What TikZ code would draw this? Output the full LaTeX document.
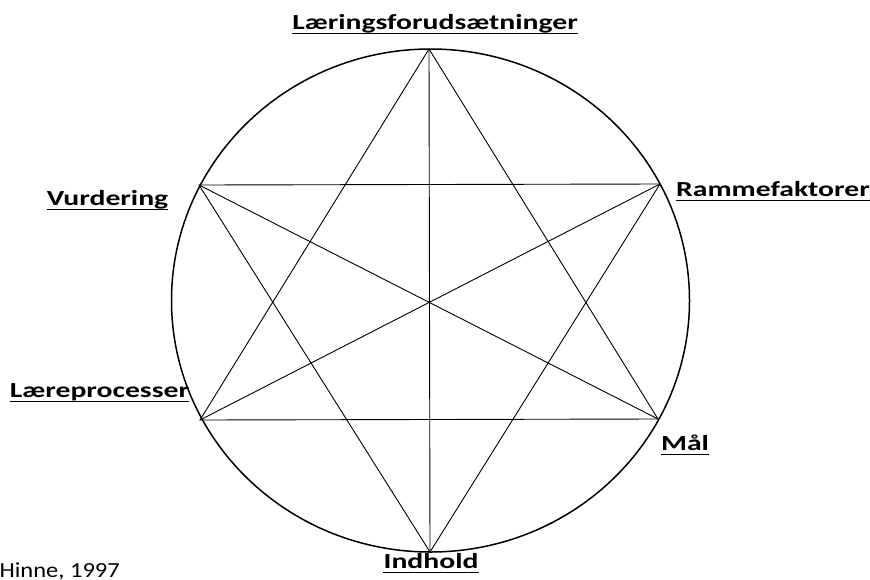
\documentclass[tikz,border=0pt]{standalone}
\usepackage{fontspec}
\setmainfont{Carlito}
\newfontfamily\labfont[FakeStretch=1.38]{Carlito}
\newfontfamily\srcfont[FakeStretch=1.14]{Carlito}
\begin{document}
\begin{tikzpicture}[x=1pt,y=-1pt,
  edge/.style={line width=0.9pt,black},
  lab/.style={font=\labfont\fontsize{21.5}{25}\selectfont\bfseries,inner sep=0pt,anchor=base},
  ul/.style={line width=1.8pt}]
\useasboundingbox (0,0) rectangle (870,579);
\draw[line width=1.5pt] (430.5,300.5) ellipse [x radius=259, y radius=251.5];
\coordinate (T) at (429,49);
\coordinate (UR) at (660,184);
\coordinate (LR) at (658,419);
\coordinate (B) at (430,552);
\coordinate (LL) at (200,420);
\coordinate (UL) at (199,185);
\draw[edge] (T) -- (LL) -- (LR) -- cycle;
\draw[edge] (UL) -- (UR) -- (B) -- cycle;
\draw[edge] (T) -- (B);
\draw[edge] (UL) -- (LR);
\draw[edge] (UR) -- (LL);
\node[lab] (l1) at (435,29) {Læringsforudsætninger};
\node[lab] (l2) at (773,196) {Rammefaktorer};
\node[lab] (l3) at (107.5,205) {Vurdering};
\node[lab] (l4) at (99.5,397) {Læreprocesser};
\node[lab] (l5) at (685,450) {Mål};
\node[lab] (l6) at (431,568) {Indhold};
\foreach \n in {l1,l2,l3,l4,l5,l6}{
  \draw[ul] ([yshift=-4.5pt]\n.base west) -- ([yshift=-4.5pt]\n.base east);
}
\node[font=\srcfont\fontsize{21.5}{25}\selectfont,inner sep=0pt,anchor=base east] (src) at (120,577) {Hinne, 1997};
\end{tikzpicture}
\end{document}
